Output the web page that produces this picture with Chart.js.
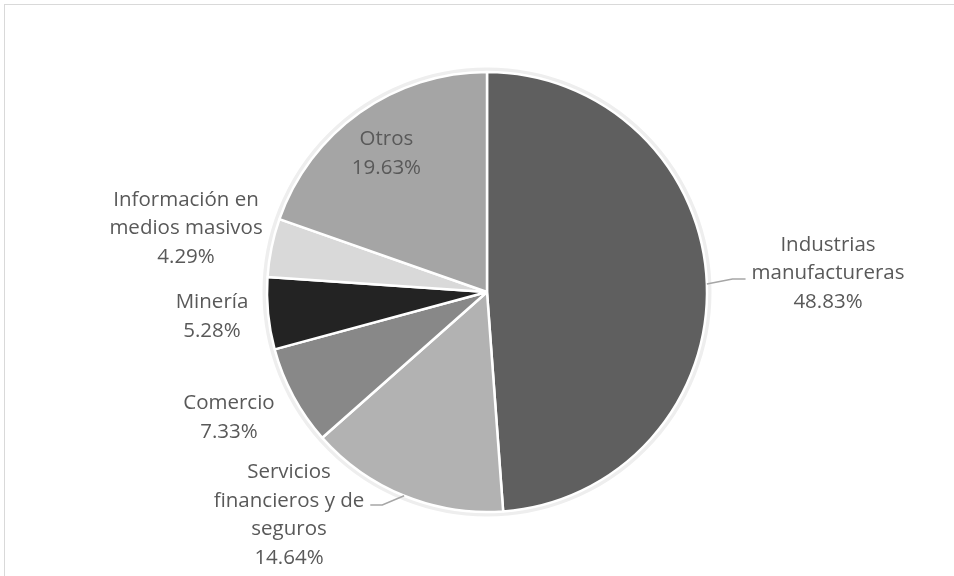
<!DOCTYPE html>
<html lang="es">
<head>
<meta charset="utf-8">
<title>Participación por sector</title>
<script src="https://cdn.jsdelivr.net/npm/chart.js@4/dist/chart.umd.min.js"></script>
<style>
  html, body { margin: 0; padding: 0; background: #ffffff; overflow: hidden; }
  #wrap { position: relative; width: 954px; height: 576px; }
  #frame {
    position: absolute; left: 4px; top: 4px;
    width: 1200px; height: 900px;
    border: 1px solid #d9d9d9; box-sizing: border-box;
  }
  canvas { position: absolute; left: 0; top: 0; }
</style>
</head>
<body>
<div id="wrap">
  <div id="frame"></div>
  <canvas id="chart" width="954" height="576"></canvas>
</div>
<script>
// Sector shares (percent), clockwise from 12 o'clock
const categories = [
  "Industrias manufactureras",
  "Servicios financieros y de seguros",
  "Comercio",
  "Minería",
  "Información en medios masivos",
  "Otros"
];
const shares = [48.83, 14.64, 7.33, 5.28, 4.29, 19.63];

// How each category name is broken into lines on its label
const labelLines = [
  ["Industrias", "manufactureras"],
  ["Servicios", "financieros y de", "seguros"],
  ["Comercio"],
  ["Minería"],
  ["Información en", "medios masivos"],
  ["Otros"]
];

const sliceColors = ["#5f5f5f", "#b2b2b2", "#888888", "#232323", "#d9d9d9", "#a5a5a5"];

// Label block placement, as offsets from the pie centre in units of the radius,
// plus optional leader line (side of the label it attaches to, vertical shift in px)
const labelPlacement = [
  { dx: 1.550, dy: -0.091, leader: { side: "left", shift: 7 } },
  { dx: -0.900, dy: 1.009, leader: { side: "right", shift: -9 } },
  { dx: -1.173, dy: 0.564 },
  { dx: -1.250, dy: 0.105 },
  { dx: -1.368, dy: -0.295 },
  { dx: -0.457, dy: -0.636 }
];

const FONT = '20.5px "Open Sans", "Noto Sans", sans-serif';
const LINE_H = 28.5;
const CAP_H = 14.5;

// Soft light ring drawn around the pie, behind the slices
const haloPlugin = {
  id: "halo",
  beforeDatasetsDraw(chart) {
    const arc = chart.getDatasetMeta(0).data[0];
    if (!arc) return;
    const ctx = chart.ctx;
    ctx.save();
    ctx.beginPath();
    ctx.arc(arc.x, arc.y, arc.outerRadius + 2, 0, Math.PI * 2);
    ctx.strokeStyle = "#eeeeee";
    ctx.lineWidth = 5;
    ctx.stroke();
    ctx.restore();
  }
};

// Category + percentage labels, with leader lines where the label sits away from its slice
const sliceLabelPlugin = {
  id: "sliceLabels",
  afterDatasetsDraw(chart) {
    const ctx = chart.ctx;
    const meta = chart.getDatasetMeta(0);
    ctx.save();
    ctx.font = FONT;
    ctx.textAlign = "center";
    ctx.textBaseline = "alphabetic";
    meta.data.forEach((arc, i) => {
      const R = arc.outerRadius;
      const place = labelPlacement[i];
      const cx = arc.x + place.dx * R;
      const cy = arc.y + place.dy * R;
      const lines = labelLines[i].concat([shares[i].toFixed(2) + "%"]);
      const n = lines.length;
      let maxW = 0;
      lines.forEach((t) => { maxW = Math.max(maxW, ctx.measureText(t).width); });

      if (place.leader) {
        const mid = (arc.startAngle + arc.endAngle) / 2;
        const sx = arc.x + Math.cos(mid) * R;
        const sy = arc.y + Math.sin(mid) * R;
        const ey = cy + place.leader.shift;
        let ex, bx;
        if (place.leader.side === "left") {
          ex = cx - maxW / 2 - 6;
          bx = ex - 13;
        } else {
          ex = cx + maxW / 2 + 6;
          bx = ex + 12;
        }
        ctx.beginPath();
        ctx.moveTo(sx, sy);
        ctx.lineTo(bx, ey);
        ctx.lineTo(ex, ey);
        ctx.strokeStyle = "#a6a6a6";
        ctx.lineWidth = 1.5;
        ctx.stroke();
      }

      ctx.fillStyle = "#595959";
      lines.forEach((t, k) => {
        const y = cy + (k - (n - 1) / 2) * LINE_H + CAP_H / 2;
        ctx.fillText(t, cx, y);
      });
    });
    ctx.restore();
  }
};

new Chart(document.getElementById("chart"), {
  type: "pie",
  data: {
    labels: categories,
    datasets: [{
      data: shares,
      backgroundColor: sliceColors,
      borderColor: "#ffffff",
      borderWidth: 2.5,
      radius: 220
    }]
  },
  options: {
    responsive: false,
    devicePixelRatio: 1,
    animation: false,
    layout: { padding: { left: 20, right: 0, top: 72, bottom: 64 } },
    plugins: {
      legend: { display: false },
      tooltip: { enabled: false }
    }
  },
  plugins: [haloPlugin, sliceLabelPlugin]
});
</script>
</body>
</html>
